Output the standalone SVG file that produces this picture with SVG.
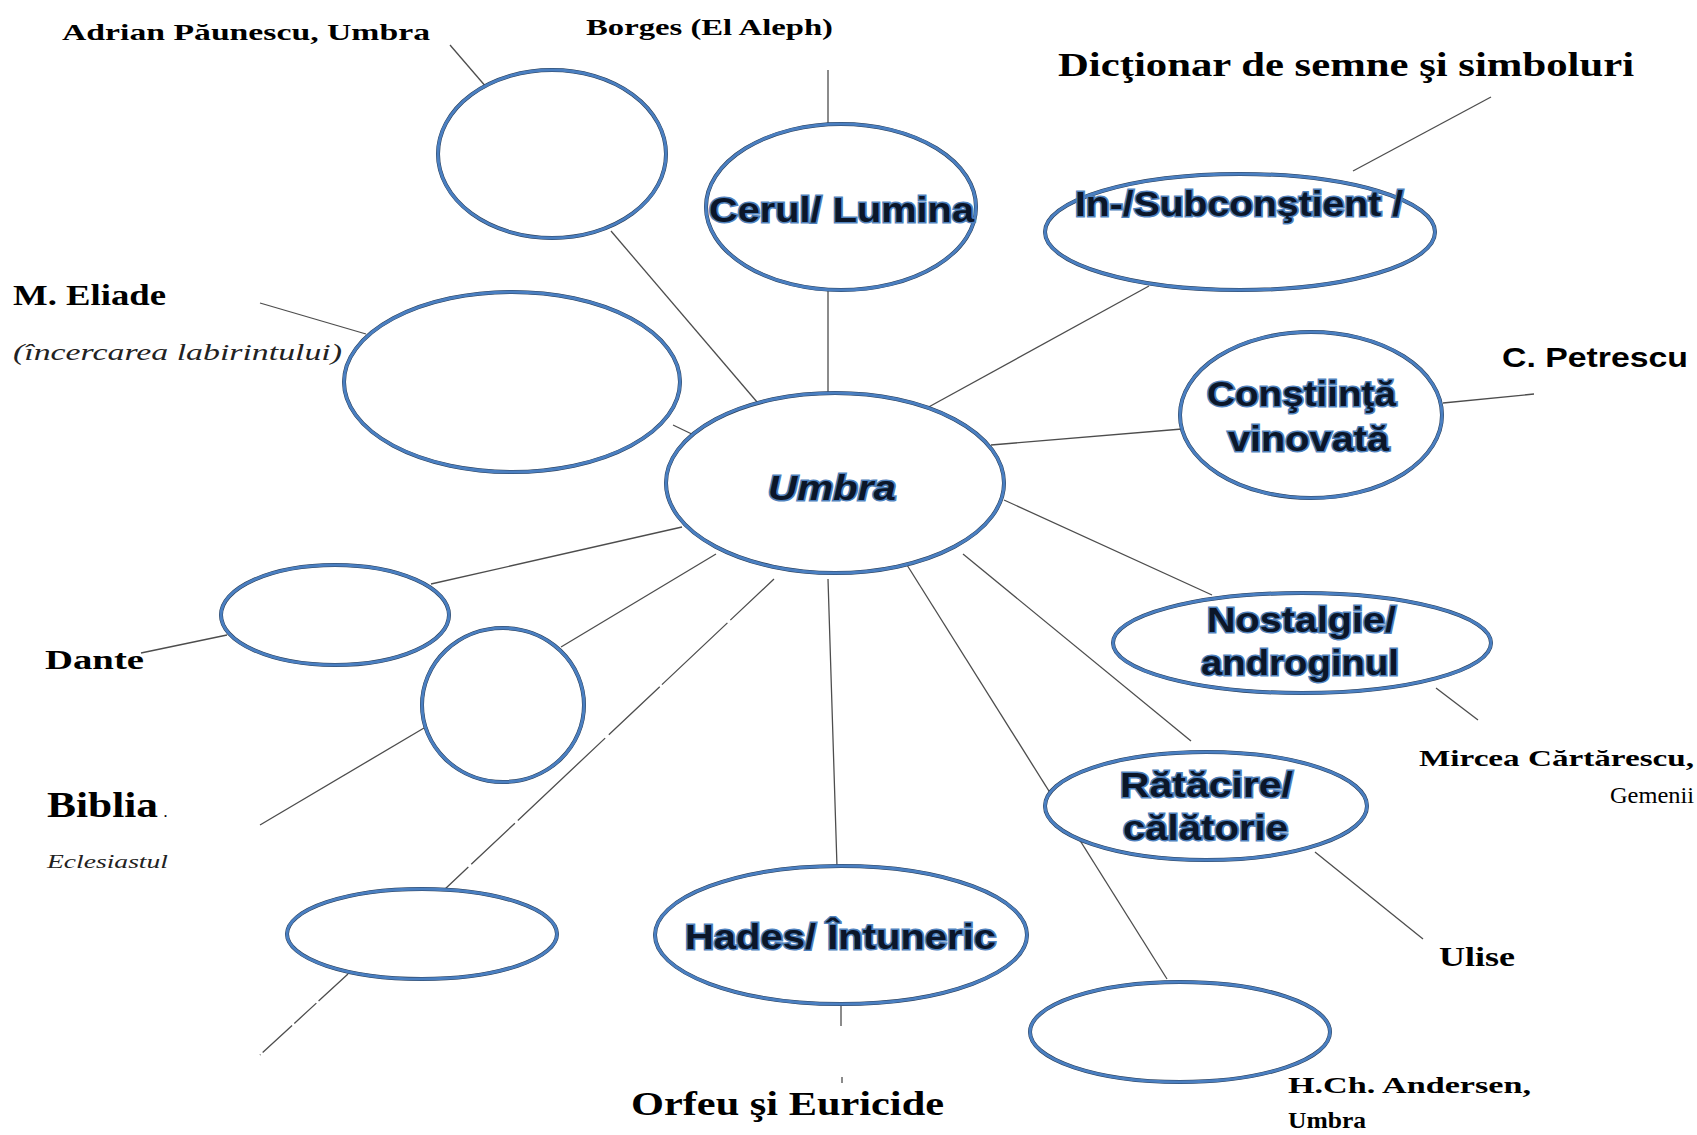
<svg xmlns="http://www.w3.org/2000/svg" width="1697" height="1135" viewBox="0 0 1697 1135">
<style>
.bg{fill:#ffffff}
.conn line{stroke:#4d4d4d;stroke-width:1.3;fill:none}
.ring{fill:#ffffff;stroke:#2a3d55;stroke-width:4}
.ring2{fill:none;stroke:#4a7fc1;stroke-width:3}
.nt{font-family:"Liberation Sans",Arial,sans-serif;font-weight:bold;font-size:35px;fill:#0b1629;stroke:#4f81bd;stroke-width:3;paint-order:stroke;}
.lab{font-family:"Liberation Serif","Times New Roman",serif;font-weight:bold;fill:#000000}
.labn{font-family:"Liberation Serif","Times New Roman",serif;font-weight:normal;fill:#000000}
.labi{font-family:"Liberation Serif","Times New Roman",serif;font-style:italic;fill:#222222}
.labs{font-family:"Liberation Sans",Arial,sans-serif;font-weight:bold;fill:#000000}
</style>
<rect class="bg" x="0" y="0" width="1697" height="1135"/>
<g id="connectors" class="conn">
  <line x1="450" y1="45" x2="487" y2="88"/>
  <line x1="611" y1="231" x2="763" y2="409"/>
  <line x1="828" y1="70" x2="828" y2="126"/>
  <line x1="828" y1="288" x2="828" y2="396"/>
  <line x1="1491" y1="97" x2="1353" y2="171"/>
  <line x1="1149" y1="286" x2="925" y2="409"/>
  <line x1="260" y1="303" x2="366" y2="334"/>
  <line x1="673" y1="425" x2="698" y2="437"/>
  <line x1="991" y1="445" x2="1182" y2="429"/>
  <line x1="1443" y1="403" x2="1534" y2="394"/>
  <line x1="1004" y1="500" x2="1212" y2="595"/>
  <line x1="1436" y1="688" x2="1478" y2="720"/>
  <line x1="963" y1="554" x2="1191" y2="741"/>
  <line x1="1315" y1="852" x2="1423" y2="939"/>
  <line x1="907" y1="565" x2="1167" y2="979"/>
  <line x1="828" y1="579" x2="837" y2="867"/>
  <line x1="841" y1="1004" x2="841" y2="1026"/>
  <line x1="842" y1="1077" x2="842" y2="1083"/>
  <line x1="682" y1="527" x2="431" y2="584"/>
  <line x1="227" y1="635" x2="141" y2="653"/>
  <line x1="716" y1="554" x2="561" y2="647"/>
  <line x1="424" y1="728" x2="260" y2="825"/>
  <line x1="774" y1="579" x2="444" y2="890" stroke-dasharray="60 4 90 3 70 5 120 4"/>
  <line x1="348" y1="974" x2="260" y2="1055" stroke-dasharray="40 3 30 3"/>
</g>
<g id="node-adrian"><ellipse class="ring" cx="552" cy="154" rx="114" ry="84"/><ellipse class="ring2" cx="552" cy="154" rx="114" ry="84"/></g>
<g id="node-cerul"><ellipse class="ring" cx="841" cy="207" rx="135" ry="83"/><ellipse class="ring2" cx="841" cy="207" rx="135" ry="83"/>
  <text class="nt" x="709" y="222" textLength="265" lengthAdjust="spacingAndGlyphs">Cerul/ Lumina</text></g>
<g id="node-subconstient"><ellipse class="ring" cx="1240" cy="232" rx="195" ry="58"/><ellipse class="ring2" cx="1240" cy="232" rx="195" ry="58"/>
  <text class="nt" x="1075" y="216" textLength="328" lengthAdjust="spacingAndGlyphs">In-/Subconştient /</text></g>
<g id="node-eliade"><ellipse class="ring" cx="512" cy="382" rx="168" ry="90"/><ellipse class="ring2" cx="512" cy="382" rx="168" ry="90"/></g>
<g id="node-constiinta"><ellipse class="ring" cx="1311" cy="415" rx="131" ry="83"/><ellipse class="ring2" cx="1311" cy="415" rx="131" ry="83"/>
  <text class="nt" x="1207" y="406" textLength="189" lengthAdjust="spacingAndGlyphs">Conştiinţă</text>
  <text class="nt" x="1228" y="451" textLength="161" lengthAdjust="spacingAndGlyphs">vinovată</text></g>
<g id="node-umbra"><ellipse class="ring" cx="835" cy="483" rx="169" ry="90"/><ellipse class="ring2" cx="835" cy="483" rx="169" ry="90"/>
  <text class="nt" x="768" y="500" font-style="italic" textLength="128" lengthAdjust="spacingAndGlyphs">Umbra</text></g>
<g id="node-dante"><ellipse class="ring" cx="335" cy="615" rx="114" ry="50"/><ellipse class="ring2" cx="335" cy="615" rx="114" ry="50"/></g>
<g id="node-biblia"><ellipse class="ring" cx="503" cy="705" rx="81" ry="77"/><ellipse class="ring2" cx="503" cy="705" rx="81" ry="77"/></g>
<g id="node-nostalgie"><ellipse class="ring" cx="1302" cy="643" rx="189" ry="50"/><ellipse class="ring2" cx="1302" cy="643" rx="189" ry="50"/>
  <text class="nt" x="1207" y="632" textLength="189" lengthAdjust="spacingAndGlyphs">Nostalgie/</text>
  <text class="nt" x="1201" y="675" textLength="198" lengthAdjust="spacingAndGlyphs">androginul</text></g>
<g id="node-ratacire"><ellipse class="ring" cx="1206" cy="806" rx="161" ry="54"/><ellipse class="ring2" cx="1206" cy="806" rx="161" ry="54"/>
  <text class="nt" x="1120" y="797" textLength="173" lengthAdjust="spacingAndGlyphs">Rătăcire/</text>
  <text class="nt" x="1123" y="840" textLength="165" lengthAdjust="spacingAndGlyphs">călătorie</text></g>
<g id="node-bottomleft"><ellipse class="ring" cx="422" cy="934" rx="135" ry="45"/><ellipse class="ring2" cx="422" cy="934" rx="135" ry="45"/></g>
<g id="node-hades"><ellipse class="ring" cx="841" cy="935" rx="186" ry="69"/><ellipse class="ring2" cx="841" cy="935" rx="186" ry="69"/>
  <text class="nt" x="685" y="949" textLength="311" lengthAdjust="spacingAndGlyphs">Hades/ Întuneric</text></g>
<g id="node-andersen"><ellipse class="ring" cx="1180" cy="1032" rx="150" ry="50"/><ellipse class="ring2" cx="1180" cy="1032" rx="150" ry="50"/></g>
<g id="labels">
  <text class="lab" x="62" y="40" font-size="24" textLength="368" lengthAdjust="spacingAndGlyphs">Adrian Păunescu, Umbra</text>
  <text class="lab" x="586" y="35" font-size="24" textLength="247" lengthAdjust="spacingAndGlyphs">Borges (El Aleph)</text>
  <text class="lab" x="1058" y="76" font-size="33" textLength="576" lengthAdjust="spacingAndGlyphs">Dicţionar de semne şi simboluri</text>
  <text class="lab" x="13" y="305" font-size="30" textLength="153" lengthAdjust="spacingAndGlyphs">M. Eliade</text>
  <text class="labi" x="13" y="360" font-size="24" textLength="329" lengthAdjust="spacingAndGlyphs">(încercarea labirintului)</text>
  <text class="labs" x="1502" y="367" font-size="28" textLength="186" lengthAdjust="spacingAndGlyphs">C. Petrescu</text>
  <text class="lab" x="45" y="669" font-size="28" textLength="99" lengthAdjust="spacingAndGlyphs">Dante</text>
  <text class="lab" x="47" y="817" font-size="36" textLength="111" lengthAdjust="spacingAndGlyphs">Biblia</text>
  <text class="lab" x="164" y="817" font-size="12">.</text>
  <text class="labi" x="47" y="868" font-size="19" textLength="121" lengthAdjust="spacingAndGlyphs">Eclesiastul</text>
  <text class="lab" x="1419" y="766" font-size="24" textLength="275" lengthAdjust="spacingAndGlyphs">Mircea Cărtărescu,</text>
  <text class="labn" x="1610" y="803" font-size="24" textLength="84" lengthAdjust="spacingAndGlyphs">Gemenii</text>
  <text class="lab" x="1439" y="966" font-size="28" textLength="76" lengthAdjust="spacingAndGlyphs">Ulise</text>
  <text class="lab" x="631" y="1115" font-size="34" textLength="313" lengthAdjust="spacingAndGlyphs">Orfeu şi Euricide</text>
  <text class="lab" x="1288" y="1093" font-size="24" textLength="243" lengthAdjust="spacingAndGlyphs">H.Ch. Andersen,</text>
  <text class="lab" x="1288" y="1128" font-size="24" textLength="78" lengthAdjust="spacingAndGlyphs">Umbra</text>
</g>
</svg>
